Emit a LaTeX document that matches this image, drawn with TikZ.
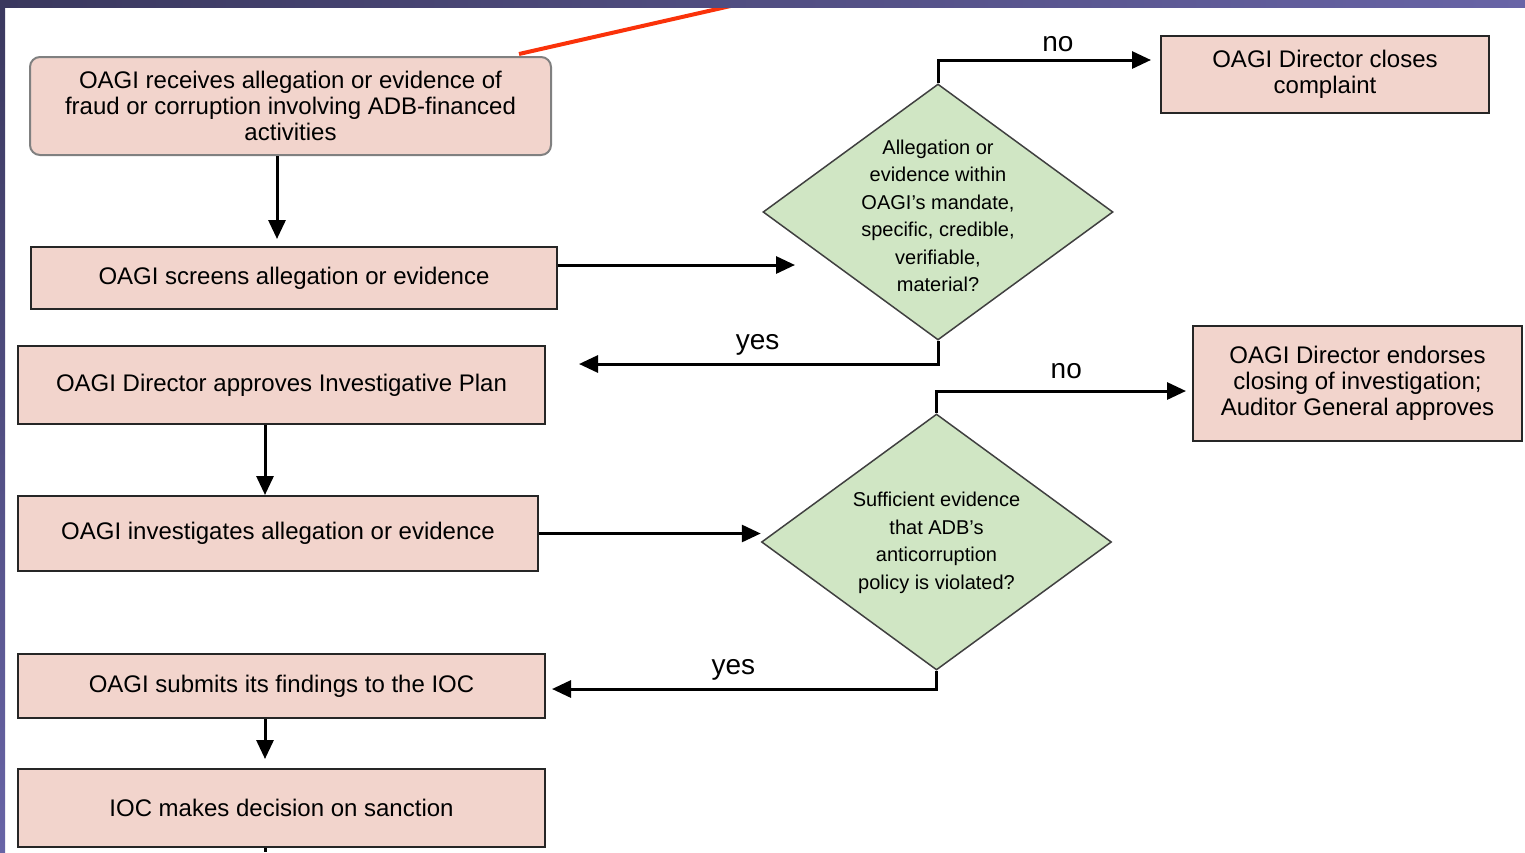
\documentclass[tikz,border=0pt]{standalone}
\usepackage{fontspec}
\setmainfont{Liberation Sans}
\usetikzlibrary{shapes.geometric, arrows.meta}

\begin{document}
\begin{tikzpicture}[x=1pt, y=-1pt]
	\definecolor{boxpink}{RGB}{242,212,204}
	\definecolor{qgreen}{RGB}{208,230,196}
	\definecolor{banddark}{RGB}{58,56,94}
	\definecolor{bandlight}{RGB}{104,100,166}
	\definecolor{redline}{RGB}{250,50,10}
	\tikzstyle{box} = [rectangle, draw=black!85, line width=2pt, fill=boxpink, inner sep=0pt, align=center, font=\fontsize{24}{26}\selectfont]
	\tikzstyle{decision} = [diamond, draw=black!75, line width=1.5pt, fill=qgreen, inner sep=0pt, minimum width=350pt, minimum height=256pt]
	\tikzstyle{qtext} = [align=center, font=\fontsize{20}{27.5}\selectfont]
	\tikzstyle{arr} = [line width=3pt, -{Triangle[length=19pt, width=17pt]}]
	\tikzstyle{lbl} = [font=\fontsize{28}{30}\selectfont, anchor=base]
	\useasboundingbox (0,0) rectangle (1525,852);
	\node[box, rounded corners=10pt, draw=black!50, minimum width=521pt, minimum height=98pt] (recv) at (290.5,106) {OAGI receives allegation or evidence of\\fraud or corruption involving ADB-financed\\activities};
	\node[box, minimum width=526pt, minimum height=62pt] (screen) at (294,278) {OAGI screens allegation or evidence};
	\node[box, minimum width=527pt, minimum height=78pt] (plan) at (281.5,385) {OAGI Director approves Investigative Plan};
	\node[box, minimum width=520pt, minimum height=75pt] (invest) at (278,533.5) {OAGI investigates allegation or evidence};
	\node[box, minimum width=527pt, minimum height=64pt] (submit) at (281.5,686) {OAGI submits its findings to the IOC};
	\node[box, minimum width=527pt, minimum height=78pt] (sanction) at (281.5,808) {IOC makes decision on sanction};
	\node[box, minimum width=328pt, minimum height=77pt] (closes) at (1325,74.5) {OAGI Director closes\\complaint};
	\node[box, minimum width=329pt, minimum height=115pt] (endorse) at (1357.5,383.5) {OAGI Director endorses\\closing of investigation;\\Auditor General approves};
	\node[decision, label={[qtext, name=d1text, yshift=-4pt]center:{Allegation or\\evidence within\\OAGI's mandate,\\specific, credible,\\verifiable,\\material?}}] (d1) at (938,212) {};
	\node[decision, label={[qtext, name=d2text, yshift=-1pt]center:{Sufficient evidence\\that ADB's\\anticorruption\\policy is violated?}}] (d2) at (936.5,542) {};
	\coordinate (d1in) at (795,265);
	\coordinate (exit) at (265,852);
	\coordinate (redend) at (757,0);
	\draw[arr, shorten >=7pt] ([xshift=-13.5pt]recv.south) -- ([xshift=-13.5pt]recv.south |- screen.north);
	\draw[arr] (screen.east |- d1in) -- (d1in);
	\draw[arr, shorten >=9pt] (d1.north) |- ([yshift=14.5pt]closes.west) node[lbl, pos=0.77, yshift=9pt] {no};
	\draw[arr, shorten >=33pt] (d1.south) |- ([yshift=21pt]plan.east) node[lbl, pos=0.73, yshift=15pt] {yes};
	\draw[arr] ([xshift=-16.5pt]plan.south) -- ([xshift=-16.5pt]plan.south |- invest.north);
	\draw[arr] (invest.east) -- (invest.east -| d2.west);
	\draw[arr, shorten >=6pt] (d2.north) |- ([yshift=-7.5pt]endorse.west) node[lbl, pos=0.754, yshift=13pt] {no};
	\draw[arr, shorten >=6pt] (d2.south) |- ([yshift=-3pt]submit.east) node[lbl, pos=0.76, yshift=15pt] {yes};
	\draw[arr, shorten >=9pt] ([xshift=-16.5pt]submit.south) -- ([xshift=-16.5pt]submit.south |- sanction.north);
	\draw[line width=3pt] ([xshift=-16.5pt]sanction.south) -- (exit);
	\draw[redline, line width=4pt] ([xshift=-33pt, yshift=2pt]recv.north east) -- (redend);
	\shade[left color=banddark, right color=bandlight] (0,0) rectangle (1525,7);
	\shade[top color=banddark, bottom color=bandlight] (0,0) rectangle (5,852);
\end{tikzpicture}
\end{document}
